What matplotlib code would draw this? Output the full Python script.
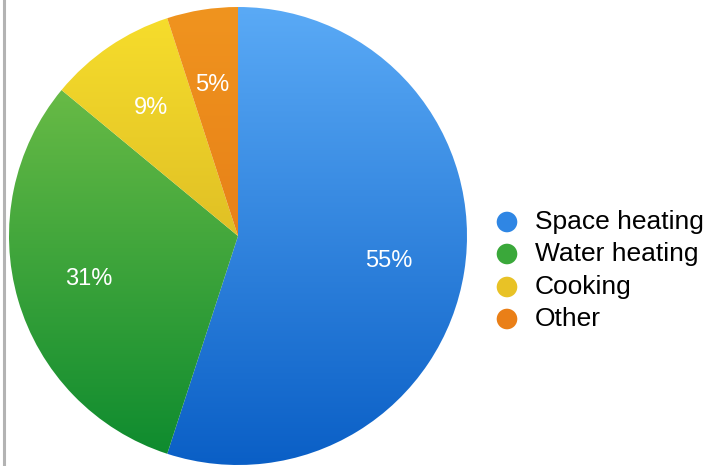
import numpy as np
import matplotlib
matplotlib.use("Agg")
import matplotlib.pyplot as plt
from matplotlib.colors import LinearSegmentedColormap

# data
labels = ["Space heating", "Water heating", "Cooking", "Other"]
shares = [55, 31, 9, 5]
# (top colour, bottom colour) of the vertical gradient of each slice
tops = ["#5aaaf6", "#7cc54b", "#f7de2c", "#f0941f"]
bottoms = ["#0a5fc6", "#0c8a2e", "#c9a21e", "#df6e10"]
mids = ["#2f86e4", "#3aa83a", "#e8c226", "#ea7f17"]

plt.rcParams["font.family"] = ["Liberation Sans", "DejaVu Sans"]

W, H = 708, 466
fig = plt.figure(figsize=(W / 100, H / 100), dpi=100)
ax = fig.add_axes([0, 0, 1, 1])

cx, cy, r = 238, 466 - 236, 229
wedges, texts = ax.pie(shares, center=(cx, cy), radius=r, startangle=90,
                       counterclock=False, frame=True,
                       wedgeprops=dict(linewidth=0, edgecolor="none"))
ax.set_xlim(0, W)
ax.set_ylim(0, H)
ax.set_aspect("equal")
ax.axis("off")

grad = np.linspace(0, 1, 256).reshape(-1, 1)
for w, c0, c1 in zip(wedges, tops, bottoms):
    w.set_facecolor("none")
    cmap = LinearSegmentedColormap.from_list("g", [c0, c1])
    im = ax.imshow(grad, cmap=cmap, aspect="auto",
                   extent=(cx - r, cx + r, cy - r, cy + r), origin="upper",
                   interpolation="bilinear", zorder=1)
    im.set_clip_path(w)

# percentage labels
label_pos = [(389, 261), (89, 279), (151, 108), (212, 85)]
for (x, y), s in zip(label_pos, shares):
    ax.text(x, H - y, f"{s}%", color="white", fontsize=17,
            ha="center", va="center", zorder=3)

# grey line on the left edge
ax.plot([4, 4], [0, H], color="#b3b3b3", lw=2.2, zorder=3)

# legend
leg_y = [222, 254, 287, 319]
for y, c, lab in zip(leg_y, mids, labels):
    ax.scatter([507], [H - y], s=220, color=c, edgecolors="none", zorder=3)
    ax.text(535, H - y, lab, fontsize=19, ha="left", va="center", color="black")

fig.savefig("out.png", dpi=100)
